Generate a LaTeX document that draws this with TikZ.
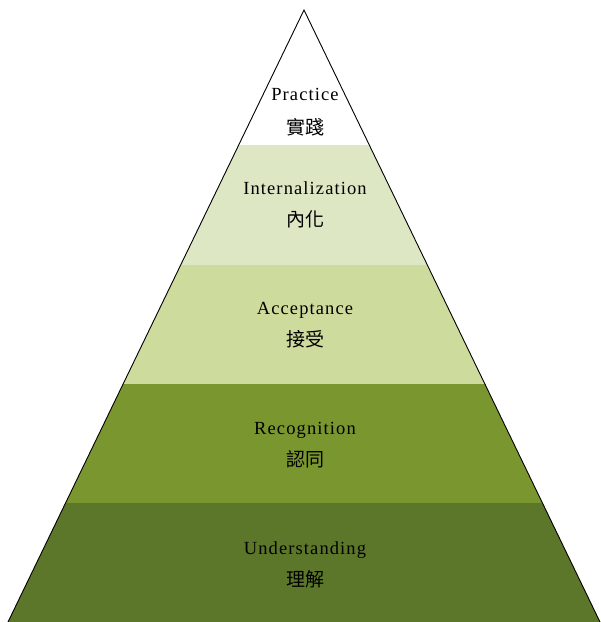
\documentclass[tikz,border=0pt]{standalone}
\usepackage{fontspec}
\setmainfont{Liberation Serif}[LetterSpace=6]
\newfontfamily\cjk{Noto Sans CJK TC}
\definecolor{bandA}{HTML}{FFFFFF}
\definecolor{bandB}{HTML}{DEE7C4}
\definecolor{bandC}{HTML}{CDDB9C}
\definecolor{bandD}{HTML}{7A962E}
\definecolor{bandE}{HTML}{5C762A}
\tikzset{
  en/.style={font=\fontsize{18.5}{22}\selectfont, inner sep=0pt, anchor=base},
  zh/.style={font=\cjk\fontsize{19}{22}\selectfont, inner sep=0pt, anchor=base},
}
\begin{document}
\begin{tikzpicture}[x=1pt,y=-1pt]
\useasboundingbox (0,0) rectangle (601,622);
\coordinate (apex) at (304,10);
\coordinate (bl) at (8,622);
\coordinate (br) at (600,622);
% band fills via clipping
\begin{scope}
\clip (apex) -- (bl) -- (br) -- cycle;
\fill[bandA] (0,0) rectangle (601,145);
\fill[bandB] (0,145) rectangle (601,265);
\fill[bandC] (0,265) rectangle (601,384);
\fill[bandD] (0,384) rectangle (601,503);
\fill[bandE] (0,503) rectangle (601,622);
\end{scope}
\draw[line width=0.9pt] (bl) -- (apex) -- (br);
\node[en] (t1) at (305,100) {Practice};
\node[zh] (c1) at (305,134) {實踐};
\node[en] (t2) at (305,194) {Internalization};
\node[zh] (c2) at (305,226) {內化};
\node[en] (t3) at (305,314) {Acceptance};
\node[zh] (c3) at (305,346) {接受};
\node[en] (t4) at (305,434) {Recognition};
\node[zh] (c4) at (305,466) {認同};
\node[en] (t5) at (305,554) {Understanding};
\node[zh] (c5) at (305,586) {理解};
\end{tikzpicture}
\end{document}
